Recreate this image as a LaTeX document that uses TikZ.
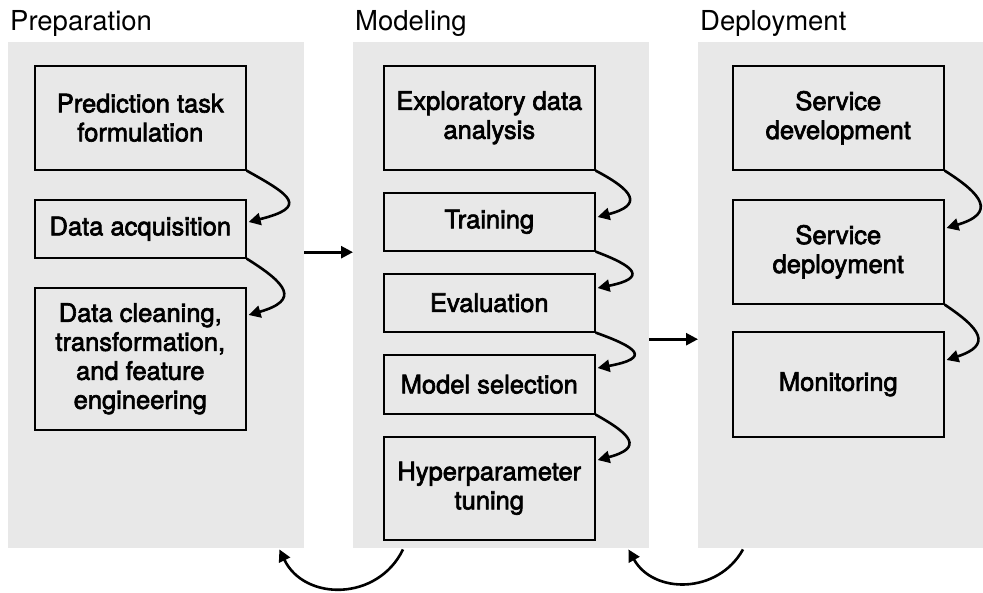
\documentclass[tikz,border=0pt]{standalone}
\usepackage{fontspec}
\setmainfont{TeX Gyre Heros}
\newfontfamily\stagefont[FakeBold=2.6]{TeX Gyre Heros}
\usetikzlibrary{arrows.meta,calc}
\definecolor{panelgray}{RGB}{232,232,232}

\begin{document}
\begin{tikzpicture}[x=1pt,y=-1pt,
  panel/.style={fill=panelgray, draw=none, anchor=north west, inner sep=0pt,
    minimum width=296pt, minimum height=506pt},
  stage/.style={draw=black, line width=1.6pt, fill=panelgray, align=center,
    font=\stagefont\fontsize{25.5}{29}\selectfont, inner sep=0pt,
    minimum width=211pt, anchor=north west},
  title/.style={anchor=base west, font=\fontsize{27.5}{30}\selectfont, inner sep=0pt},
  flow/.style={line width=2.6pt, -{Triangle[length=12pt,width=12pt]}},
]
\useasboundingbox (0,0) rectangle (983,592);

% phase panels
\node[panel] (prep) at (8,42) {};
\node[panel] (mod) at (353,42) {};
\node[panel, minimum width=285pt] (dep) at (698,42) {};

% phase titles
\node[title] (tprep) at (10,30) {Preparation};
\node[title] (tmod) at (355,30) {Modeling};
\node[title] (tdep) at (700,30) {Deployment};

% preparation steps
\node[stage, minimum height=104pt] (p1) at (34,65) {Prediction task\\formulation};
\node[stage, minimum height=58pt] (p2) at (34,199) {Data acquisition};
\node[stage, minimum height=142pt] (p3) at (34,287) {Data cleaning,\\transformation,\\and feature\\engineering};

% modeling steps
\node[stage, minimum height=104pt] (m1) at (383,65) {Exploratory data\\analysis};
\node[stage, minimum height=58pt] (m2) at (383,192) {Training};
\node[stage, minimum height=58pt] (m3) at (383,273) {Evaluation};
\node[stage, minimum height=59pt] (m4) at (383,354) {Model selection};
\node[stage, minimum height=103pt] (m5) at (383,436) {Hyperparameter\\tuning};

% deployment steps
\node[stage, minimum height=104pt] (d1) at (732,65) {Service\\development};
\node[stage, minimum height=104pt] (d2) at (732,199) {Service\\deployment};
\node[stage, minimum height=105pt] (d3) at (732,331) {Monitoring};

% step-to-step connectors
\draw[flow] (p1.south east) .. controls +(45,25) and +(60,-15) .. ([shift={(2pt,-23pt)}]p2.north east);
\draw[flow] (p2.south east) .. controls +(40,25) and +(52,-15) .. ([shift={(2pt,-28pt)}]p3.north east);

\draw[flow] (m1.south east) .. controls +(38,20) and +(46,-12) .. ([shift={(2pt,-25pt)}]m2.north east);
\draw[flow] (m2.south east) .. controls +(40,15) and +(50,-10) .. ([shift={(2pt,-15pt)}]m3.north east);
\draw[flow] (m3.south east) .. controls +(42,15) and +(54,-10) .. ([shift={(2pt,-14pt)}]m4.north east);
\draw[flow] (m4.south east) .. controls +(36,20) and +(46,-12) .. ([shift={(2pt,-24pt)}]m5.north east);

\draw[flow] (d1.south east) .. controls +(38,24) and +(50,-15) .. ([shift={(2pt,-29pt)}]d2.north east);
\draw[flow] (d2.south east) .. controls +(36,24) and +(46,-15) .. ([shift={(2pt,-29pt)}]d3.north east);

% phase-to-phase connectors
\draw[flow] ([yshift=43pt]prep.east) -- ([yshift=43pt]mod.west);
\draw[flow] ([yshift=-44pt]mod.east) -- ([yshift=-44pt]dep.west);

% feedback loops
\draw[flow] ([shift={(50pt,-1pt)}]mod.south west) .. controls +(-25,52) and +(25,52) .. ([shift={(-25pt,-1pt)}]prep.south east);
\draw[flow] ([shift={(45pt,-1pt)}]dep.south west) .. controls +(-25,45) and +(25,45) .. ([shift={(-21pt,-1pt)}]mod.south east);
\end{tikzpicture}
\end{document}
